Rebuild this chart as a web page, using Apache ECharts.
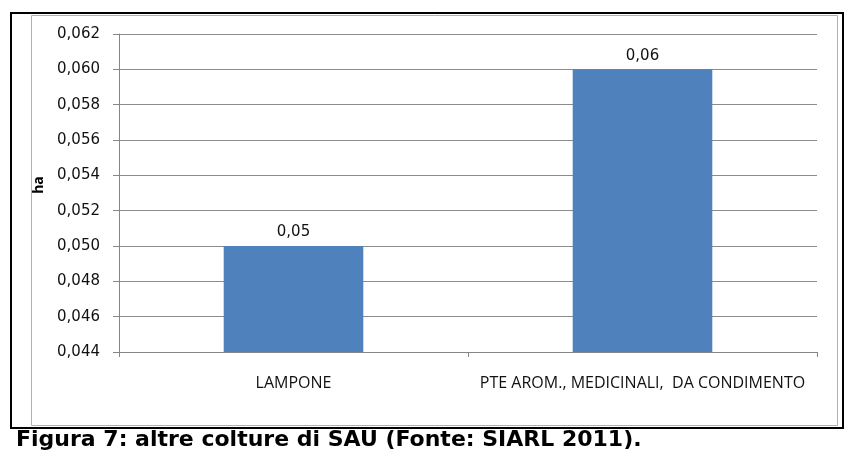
<!DOCTYPE html>
<html>
<head>
<meta charset="utf-8">
<script src="https://cdn.jsdelivr.net/npm/echarts@6/dist/echarts.min.js"></script>
<style>
  html, body { margin: 0; padding: 0; background: #fff; }
  #chart { width: 845px; height: 452px; }
</style>
</head>
<body>
<div id="chart"></div>
<script>
  const categories = ['LAMPONE', 'PTE AROM., MEDICINALI,  DA CONDIMENTO'];
  const values = [0.05, 0.06];
  const axisMin = 0.044;
  const axisMax = 0.062;
  const axisStep = 0.002;

  const chart = echarts.init(document.getElementById('chart'));
  const comma = (v, d) => v.toFixed(d).replace('.', ',');

  chart.setOption({
    animation: false,
    textStyle: { fontFamily: '"Open Sans", "DejaVu Sans", sans-serif' },
    graphic: [
      // outer black frame
      {
        type: 'rect',
        shape: { x: 11, y: 13, width: 832, height: 415 },
        style: { fill: 'none', stroke: '#000', lineWidth: 2 },
        silent: true
      },
      // inner chart area border
      {
        type: 'rect',
        shape: { x: 31.5, y: 15.5, width: 806, height: 410 },
        style: { fill: 'none', stroke: '#b0b0b0', lineWidth: 1 },
        silent: true
      },
      {
        type: 'text',
        left: 16,
        top: 429,
        style: {
          text: 'Figura 7: altre colture di SAU (Fonte: SIARL 2011).',
          font: 'bold 22px "DejaVu Sans", Verdana, sans-serif',
          fill: '#000'
        }
      }
    ],
    grid: { left: 119, top: 34, width: 698, height: 318 },
    xAxis: {
      type: 'category',
      data: categories,
      axisLine: { lineStyle: { color: '#868686', width: 1 } },
      axisTick: { show: true, length: 5, lineStyle: { color: '#868686' } },
      axisLabel: { color: '#111', fontSize: 16, margin: 23, interval: 0, hideOverlap: false }
    },
    yAxis: {
      type: 'value',
      min: axisMin,
      max: axisMax,
      interval: axisStep,
      name: 'ha',
      nameLocation: 'middle',
      nameRotate: 90,
      nameGap: 68,
      nameTextStyle: { color: '#000', fontWeight: 'bold', fontSize: 14, padding: [0, 0, 0, 16] },
      axisLine: { show: true, lineStyle: { color: '#868686' } },
      axisTick: { show: true, length: 6, lineStyle: { color: '#868686' } },
      axisLabel: {
        color: '#111',
        fontSize: 15,
        margin: 19,
        fontFamily: '"DejaVu Sans", sans-serif',
        formatter: v => comma(v, 3)
      },
      splitLine: { lineStyle: { color: '#8c8c8c' } }
    },
    series: [{
      type: 'bar',
      data: values,
      barWidth: '40%',
      itemStyle: { color: '#4f81bd' },
      label: {
        show: true,
        position: 'top',
        distance: 6,
        color: '#111',
        fontSize: 15,
        fontFamily: '"DejaVu Sans", sans-serif',
        formatter: p => comma(p.value, 2)
      }
    }]
  });
</script>
</body>
</html>
